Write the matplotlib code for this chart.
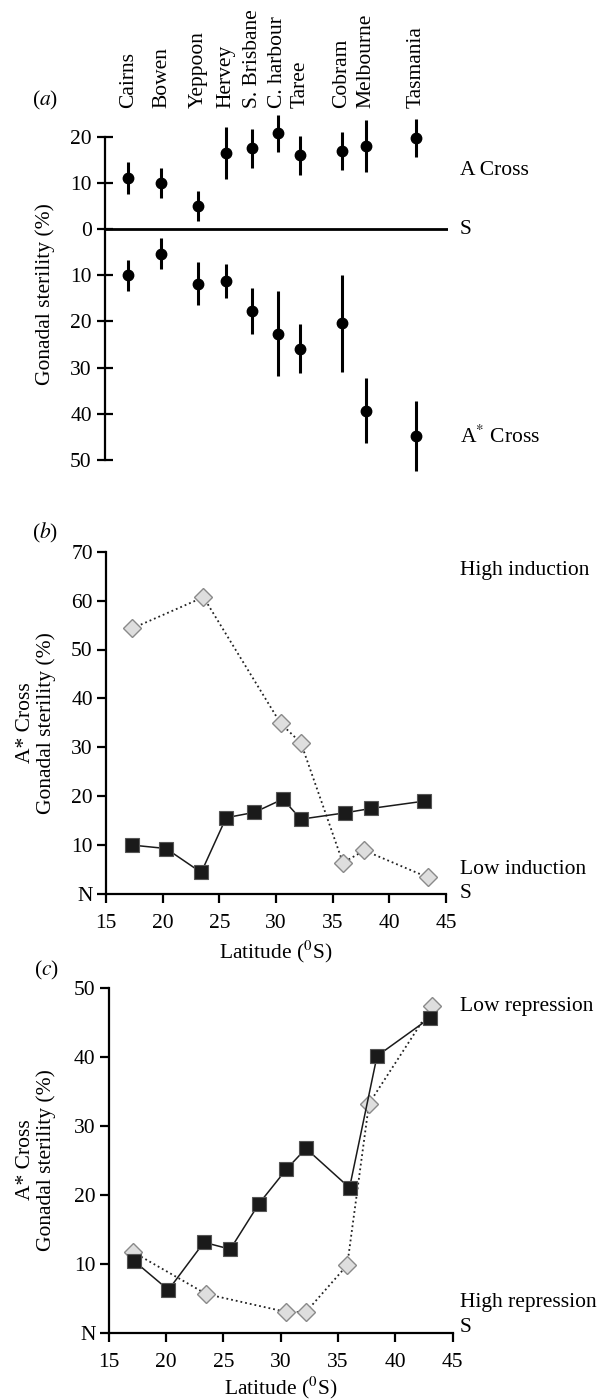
import matplotlib
matplotlib.use('Agg')
import matplotlib.pyplot as plt

plt.rcParams['font.family'] = ['Liberation Serif', 'DejaVu Serif']
plt.rcParams['mathtext.fontset'] = 'stix'
plt.rcParams['font.size'] = 15.5

# panel (a): sites along latitude, mean sterility with error bars
sites = ['Cairns', 'Bowen', 'Yeppoon', 'Hervey', 'S. Brisbane', 'C. harbour',
         'Taree', 'Cobram', 'Melbourne', 'Tasmania']
site_lat = [17.1, 20.1, 23.4, 25.9, 28.3, 30.6, 32.6, 36.4, 38.6, 43.1]
a_cross = [11.0, 10.0, 5.0, 16.5, 17.5, 20.7, 16.0, 16.9, 18.0, 19.8]
a_cross_err = [3.5, 3.3, 3.3, 5.7, 4.2, 4.0, 4.2, 4.1, 5.6, 4.1]
astar_cross = [10.0, 5.3, 11.8, 11.3, 17.7, 22.7, 25.9, 20.4, 39.3, 44.8]
astar_cross_err = [3.4, 3.4, 4.7, 3.7, 5.0, 9.2, 5.3, 10.5, 7.1, 7.6]

# panel (b): induction
b_sq_lat = [17.3, 20.3, 23.4, 25.6, 28.1, 30.6, 32.2, 36.1, 38.4, 43.1]
b_sq = [10.0, 9.3, 4.4, 15.6, 16.7, 19.4, 15.3, 16.6, 17.5, 19.0]
b_di_lat = [17.3, 23.6, 30.4, 32.2, 35.9, 37.8, 43.4]
b_di = [54.3, 60.7, 34.9, 30.9, 6.4, 8.9, 3.4]

# panel (c): repression
c_sq_lat = [17.2, 20.2, 23.3, 25.6, 28.1, 30.5, 32.2, 36.0, 38.4, 43.0]
c_sq = [10.4, 6.2, 13.1, 12.1, 18.7, 23.7, 26.7, 21.0, 40.1, 45.6]
c_di_lat = [17.1, 23.5, 30.5, 32.2, 35.8, 37.7, 43.2]
c_di = [11.7, 5.6, 3.0, 3.0, 9.8, 33.2, 47.3]

W, H = 598, 1399


def fx(px):
    return px / W


def fy(py):
    return 1 - py / H


fig = plt.figure(figsize=(W / 100, H / 100), dpi=100)

# ---- panel (a)
ax_a = fig.add_axes([fx(105), fy(460), (448.3 - 105) / W, (460 - 136.7) / H])
ax_a.set_xlim(15, 46)
ax_a.set_ylim(-50, 20)
for vals, errs, sign in [(a_cross, a_cross_err, 1), (astar_cross, astar_cross_err, -1)]:
    eb = ax_a.errorbar(site_lat, [sign * v for v in vals], yerr=errs, fmt='o',
                       color='black', ms=7.5, elinewidth=2.2, capsize=0)
    for art in eb.get_children():
        art.set_clip_on(False)
ax_a.axhline(0, color='black', lw=2)
for s in ['top', 'right', 'bottom']:
    ax_a.spines[s].set_visible(False)
ax_a.spines['left'].set_linewidth(1.6)
ax_a.set_xticks([])
ax_a.set_yticks([20, 10, 0, -10, -20, -30, -40, -50])
ax_a.set_yticklabels(['20', '10', '0', '10', '20', '30', '40', '50'])
ax_a.tick_params(axis='y', direction='inout', length=11, width=1.6, pad=4)
for name, lat in zip(sites, site_lat):
    ax_a.text(lat, 26.2, name, rotation=90, ha='center', va='bottom')

fig.text(fx(460), fy(170.7), 'A Cross', va='center')
fig.text(fx(460), fy(229), 'S', va='center')
fig.text(fx(460), fy(436.7), r'A$^{*}$ Cross', va='center')
fig.text(fx(45), fy(294), 'Gonadal sterility (%)', rotation=90, ha='center', va='center')
fig.text(fx(45), fy(100), r'($\mathit{a}$)', ha='center', va='center')


def style_panel(ax, ymax):
    ax.set_xlim(15, 45)
    ax.set_ylim(0, ymax)
    for s in ['top', 'right']:
        ax.spines[s].set_visible(False)
    for s in ['left', 'bottom']:
        ax.spines[s].set_linewidth(1.6)
    ax.set_xticks(range(15, 50, 5))
    yt = list(range(0, ymax + 1, 10))
    ax.set_yticks(yt)
    ax.set_yticklabels(['N'] + [str(v) for v in yt[1:]])
    ax.tick_params(axis='y', direction='out', length=6.5, width=1.6, pad=3)
    ax.tick_params(axis='x', direction='out', length=6.5, width=1.6, pad=8)


def draw_series(ax, sq_lat, sq, di_lat, di):
    ax.plot(di_lat, di, ls=':', color='#222222', lw=1.3, marker='D', ms=9,
            mfc='#dedede', mec='#8a8a8a', mew=1, clip_on=False, zorder=3)
    ax.plot(sq_lat, sq, ls='-', color='#1a1a1a', lw=1.1, marker='s', ms=9.5,
            mfc='#1a1a1a', mec='#555555', mew=0.8, clip_on=False, zorder=4)


ylab = 'A* Cross\nGonadal sterility (%)'

# ---- panel (b)
ax_b = fig.add_axes([fx(106), fy(894), 340 / W, (894 - 551.7) / H])
draw_series(ax_b, b_sq_lat, b_sq, b_di_lat, b_di)
style_panel(ax_b, 70)
fig.text(fx(460), fy(570), 'High induction', va='center')
fig.text(fx(460), fy(870), 'Low induction', va='center')
fig.text(fx(460), fy(893), 'S', va='center')
fig.text(fx(276), fy(951.7), r'Latitude ($^0$S)', ha='center', va='center')
fig.text(fx(36), fy(723), ylab, rotation=90, ha='center', va='center',
         multialignment='center', linespacing=1.1)
fig.text(fx(45), fy(533), r'($\mathit{b}$)', ha='center', va='center')

# ---- panel (c)
ax_c = fig.add_axes([fx(108.8), fy(1332.7), (452.7 - 108.8) / W, (1332.7 - 987.7) / H])
draw_series(ax_c, c_sq_lat, c_sq, c_di_lat, c_di)
style_panel(ax_c, 50)
fig.text(fx(460), fy(1006), 'Low repression', va='center')
fig.text(fx(460), fy(1303), 'High repression', va='center')
fig.text(fx(460), fy(1328), 'S', va='center')
fig.text(fx(280.7), fy(1388), r'Latitude ($^0$S)', ha='center', va='center')
fig.text(fx(36), fy(1160), ylab, rotation=90, ha='center', va='center',
         multialignment='center', linespacing=1.1)
fig.text(fx(46), fy(970), r'($\mathit{c}$)', ha='center', va='center')

fig.savefig('out.png', dpi=100)
